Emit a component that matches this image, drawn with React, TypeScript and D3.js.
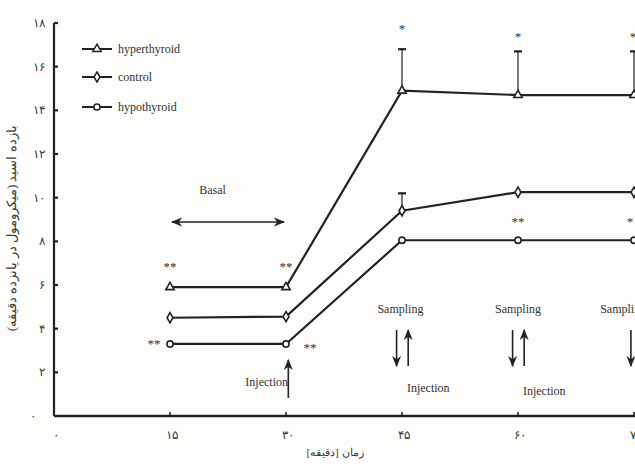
import { useEffect, useRef } from 'react';
import * as d3 from 'd3';

const times = [15, 30, 45, 60, 75];
const hyperthyroid = [5.9, 5.9, 14.9, 14.7, 14.7];
const control = [4.5, 4.55, 9.4, 10.25, 10.25];
const hypothyroid = [3.3, 3.3, 8.05, 8.05, 8.05];
const hyperErr = [0, 0, 1.9, 2.0, 2.0];
const controlErr = [0, 0, 0.8, 0, 0];

const yTicks = [0, 2, 4, 6, 8, 10, 12, 14, 16, 18];
const xTicks = [0, 15, 30, 45, 60, 75];
const faDigits = '۰۱۲۳۴۵۶۷۸۹';
const fa = (n: number) => String(n).replace(/\d/g, d => faDigits[+d]);

// significance marks: [time, value, label, dx, dy]
const stars: [number, number, string, number, number][] = [
  [15, 5.9, '**', 0, -16],
  [30, 5.9, '**', 0, -16],
  [15, 3.3, '**', -16, 4],
  [30, 3.3, '**', 24, 8],
  [45, 16.9, '*', 0, -14],
  [60, 16.7, '*', 0, -10],
  [75, 16.7, '*', -1, -10],
  [60, 8.05, '**', 0, -14],
  [75, 8.05, '*', -4, -14],
];

const ink = '#222';
const font = '"Liberation Serif", "DejaVu Serif", serif';

export default function App() {
  const svgRef = useRef<SVGSVGElement>(null);

  useEffect(() => {
    if (!svgRef.current) return;
    const svg = d3.select(svgRef.current);
    svg.selectAll('*').remove();

    const x = d3.scaleLinear().domain([0, 75]).range([54, 634]);
    const y = d3.scaleLinear().domain([0, 18]).range([416, 23]);

    svg.append('rect').attr('width', 635).attr('height', 466).attr('fill', '#fdfdfb');

    // axes
    svg.append('line').attr('x1', 54).attr('x2', 54).attr('y1', y(18)).attr('y2', y(0))
      .attr('stroke', ink).attr('stroke-width', 2.2);
    svg.append('line').attr('x1', 54).attr('x2', 635).attr('y1', y(0)).attr('y2', y(0))
      .attr('stroke', ink).attr('stroke-width', 2.4);

    yTicks.forEach(t => {
      if (t > 0) {
        svg.append('line').attr('x1', 54).attr('x2', 58).attr('y1', y(t)).attr('y2', y(t))
          .attr('stroke', ink).attr('stroke-width', 2.2);
      }
      svg.append('text').attr('x', t === 0 ? 36 : 45).attr('y', y(t) + 4)
        .attr('text-anchor', 'end').style('font-family', font).style('font-size', '12px')
        .style('fill', '#3a3a3a').text(fa(t));
    });

    xTicks.forEach(t => {
      if (t > 0) {
        svg.append('line').attr('x1', x(t)).attr('x2', x(t)).attr('y1', y(0)).attr('y2', y(0) - 4)
          .attr('stroke', ink).attr('stroke-width', 1.6);
      }
      svg.append('text').attr('x', x(t) + 2).attr('y', 439)
        .attr('text-anchor', 'middle').style('font-family', font).style('font-size', '12px')
        .style('fill', '#3a3a3a').text(fa(t));
    });

    svg.append('text').attr('x', 335).attr('y', 456).attr('text-anchor', 'middle')
      .style('font-family', font).style('font-size', '11px').style('fill', '#3a3a3a')
      .text('زمان [دقیقه]');

    svg.append('text').attr('transform', `translate(16,${y(8.6)}) rotate(-90)`)
      .attr('text-anchor', 'middle').style('font-family', font).style('font-size', '13px')
      .style('fill', '#3a3a3a').text('بازده اسید (میکرومول در پانزده دقیقه)');

    const line = d3.line<number>().x((_, i) => x(times[i])).y(d => y(d));

    const series = [
      { data: hyperthyroid, err: hyperErr, shape: d3.symbolTriangle },
      { data: control, err: controlErr, shape: d3.symbolDiamond },
      { data: hypothyroid, err: [0, 0, 0, 0, 0], shape: d3.symbolCircle },
    ];

    series.forEach(s => {
      s.data.forEach((v, i) => {
        if (s.err[i] > 0) {
          svg.append('line').attr('x1', x(times[i])).attr('x2', x(times[i]))
            .attr('y1', y(v)).attr('y2', y(v + s.err[i])).attr('stroke', ink).attr('stroke-width', 1.2);
          svg.append('line').attr('x1', x(times[i]) - 4).attr('x2', x(times[i]) + 4)
            .attr('y1', y(v + s.err[i])).attr('y2', y(v + s.err[i])).attr('stroke', ink).attr('stroke-width', 2.2);
        }
      });
      svg.append('path').attr('d', line(s.data)).attr('fill', 'none')
        .attr('stroke', ink).attr('stroke-width', 2.2);
      svg.selectAll(null).data(s.data).enter().append('path')
        .attr('transform', (d, i) => `translate(${x(times[i])},${y(d)})`)
        .attr('d', d3.symbol().type(s.shape).size(30)())
        .attr('fill', '#fff').attr('stroke', ink).attr('stroke-width', 1.6);
    });

    stars.forEach(([t, v, label, dx, dy]) => {
      svg.append('text').attr('x', x(t) + dx).attr('y', y(v) + dy).attr('text-anchor', 'middle')
        .style('font-family', font).style('font-size', '13px').style('fill', '#333').text(label);
    });

    // legend
    const legend = [
      { name: 'hyperthyroid', shape: d3.symbolTriangle, ly: 49 },
      { name: 'control', shape: d3.symbolDiamond, ly: 77 },
      { name: 'hypothyroid', shape: d3.symbolCircle, ly: 107 },
    ];
    legend.forEach(l => {
      svg.append('line').attr('x1', 82).attr('x2', 112).attr('y1', l.ly).attr('y2', l.ly)
        .attr('stroke', ink).attr('stroke-width', 2);
      svg.append('path').attr('transform', `translate(97,${l.ly})`)
        .attr('d', d3.symbol().type(l.shape).size(30)())
        .attr('fill', '#fff').attr('stroke', ink).attr('stroke-width', 1.5);
      svg.append('text').attr('x', 118).attr('y', l.ly + 4).style('font-family', font)
        .style('font-size', '12px').style('fill', '#333').text(l.name);
    });

    // annotations
    const defs = svg.append('defs');
    defs.append('marker').attr('id', 'ah').attr('viewBox', '0 0 10 10').attr('refX', 9).attr('refY', 5)
      .attr('markerWidth', 7).attr('markerHeight', 7).attr('orient', 'auto-start-reverse')
      .append('path').attr('d', 'M0,1 L10,5 L0,9 L3,5 Z').attr('fill', ink);

    const arrow = (x1: number, y1: number, x2: number, y2: number, both = false) => {
      const a = svg.append('line').attr('x1', x1).attr('y1', y1).attr('x2', x2).attr('y2', y2)
        .attr('stroke', ink).attr('stroke-width', 1.6).attr('marker-end', 'url(#ah)');
      if (both) a.attr('marker-start', 'url(#ah)');
    };
    const note = (tx: number, ty: number, s: string) => {
      svg.append('text').attr('x', tx).attr('y', ty).attr('text-anchor', 'middle')
        .style('font-family', font).style('font-size', '12px').style('fill', '#333').text(s);
    };

    note(x(20.5), 194, 'Basal');
    arrow(x(15) + 2, 222, x(30) - 2, 222, true);

    note(x(27.5), 386, 'Injection');
    arrow(x(30.3), 398, x(30.3), 360);

    note(x(44.8), 313, 'Sampling');
    arrow(x(44.3), 330, x(44.3), 366);
    arrow(x(45.8), 366, x(45.8), 330);
    note(x(48.4), 392, 'Injection');

    note(x(60), 313, 'Sampling');
    arrow(x(59.3), 330, x(59.3), 366);
    arrow(x(60.8), 366, x(60.8), 330);
    note(x(63.4), 395, 'Injection');

    note(x(73.6), 313, 'Sampling');
    arrow(x(74.6), 330, x(74.6), 366);
  }, []);

  return (
    <svg ref={svgRef} width={635} height={466}
      style={{ position: 'absolute', left: 0, top: 0, display: 'block' }} />
  );
}
